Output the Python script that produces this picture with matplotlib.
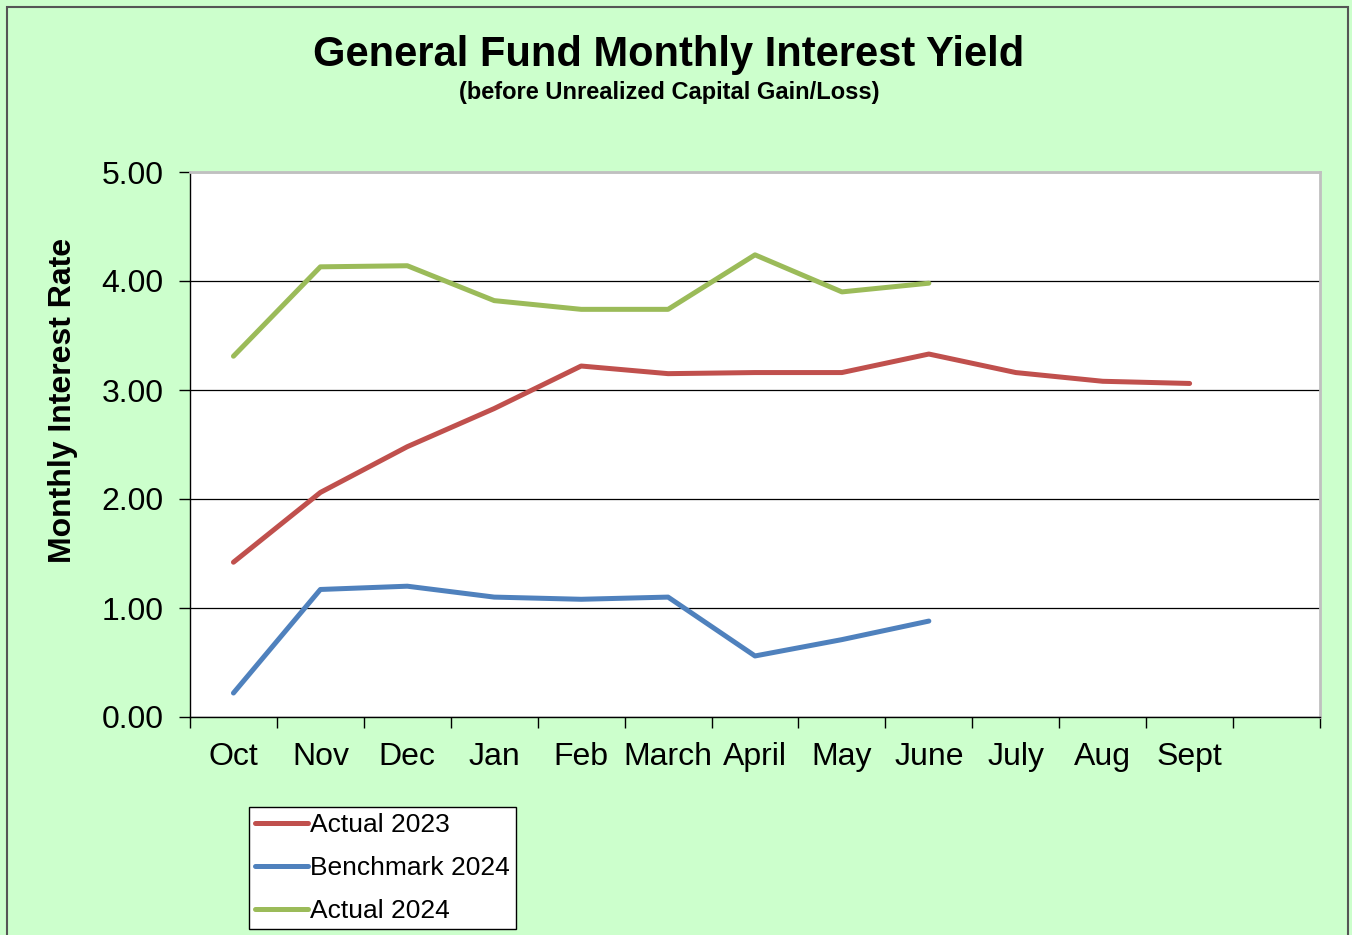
import numpy as np
import matplotlib.pyplot as plt
from matplotlib.patches import Rectangle

months = ['Oct', 'Nov', 'Dec', 'Jan', 'Feb', 'March', 'April', 'May', 'June',
          'July', 'Aug', 'Sept', '']

actual_2023 = [1.42, 2.06, 2.48, 2.83, 3.22, 3.15, 3.16, 3.16, 3.33, 3.16, 3.08, 3.06]
benchmark_2024 = [0.22, 1.17, 1.20, 1.10, 1.08, 1.10, 0.56, 0.71, 0.88]
actual_2024 = [3.31, 4.13, 4.14, 3.82, 3.74, 3.74, 4.24, 3.90, 3.98]

plt.rcParams['font.family'] = ['Liberation Sans', 'DejaVu Sans']

bg = '#CCFFCC'
fig = plt.figure(figsize=(13.52, 9.35), dpi=100, facecolor=bg)
fig.patches.append(Rectangle((7 / 1352, -0.01), 1341 / 1352, 1 - 7 / 935 + 0.01,
                             transform=fig.transFigure, fill=False,
                             edgecolor='#555555', linewidth=1.5))

ax = fig.add_axes([190 / 1352, 1 - 717 / 935, 1130 / 1352, 545 / 935])
ax.set_facecolor('white')

x = np.arange(len(months))
lw = 3.6
l1, = ax.plot(x[:len(actual_2023)], actual_2023, color='#C0504D', lw=lw,
              solid_capstyle='round', solid_joinstyle='round', label='Actual 2023')
l2, = ax.plot(x[:len(benchmark_2024)], benchmark_2024, color='#4F81BD', lw=lw,
              solid_capstyle='round', solid_joinstyle='round', label='Benchmark 2024')
l3, = ax.plot(x[:len(actual_2024)], actual_2024, color='#9BBB59', lw=lw,
              solid_capstyle='round', solid_joinstyle='round', label='Actual 2024')

ax.set_xlim(-0.5, len(months) - 0.5)
ax.set_ylim(0, 5)
ax.set_yticks(np.arange(0, 5.01, 1.0))
ax.set_yticklabels([f'{v:.2f}' for v in np.arange(0, 5.01, 1.0)], fontsize=23)
ax.yaxis.grid(True, color='black', linewidth=0.9)
ax.set_axisbelow(True)

# category ticks at boundaries, labels centred
ax.set_xticks(np.arange(-0.5, len(months)), minor=False)
ax.set_xticklabels([])
ax.set_xticks(x, minor=True)
ax.set_xticklabels(months, minor=True, fontsize=23)
ax.tick_params(axis='x', which='minor', length=0, pad=18)
ax.tick_params(axis='x', which='major', direction='out', length=8, width=1)
ax.tick_params(axis='y', direction='out', length=8, width=1, pad=11)

for side in ['top', 'right']:
    ax.spines[side].set_color('#C0C0C0')
    ax.spines[side].set_linewidth(2)
for side in ['left', 'bottom']:
    ax.spines[side].set_color('black')
    ax.spines[side].set_linewidth(1)

ax.set_ylabel('Monthly Interest Rate', fontsize=23, fontweight='bold')
ax.yaxis.set_label_coords(-112 / 1130, 0.58)

fig.text(669 / 1352, 1 - 55 / 935, 'General Fund Monthly Interest Yield',
         ha='center', va='center', fontsize=30, fontweight='bold')
fig.text(669 / 1352, 1 - 92 / 935, '(before Unrealized Capital Gain/Loss)',
         ha='center', va='center', fontsize=17, fontweight='bold')

leg = fig.legend(handles=[l1, l2, l3], loc='upper left',
                 bbox_to_anchor=(249 / 1352, 1 - 807 / 935),
                 fontsize=19, frameon=True, fancybox=False, framealpha=1,
                 edgecolor='black', handlelength=2.0, handletextpad=0.1,
                 labelspacing=0.72, borderpad=0.22, borderaxespad=0)
leg.get_frame().set_linewidth(1)

fig.savefig('out.png', dpi=100, facecolor=bg)
